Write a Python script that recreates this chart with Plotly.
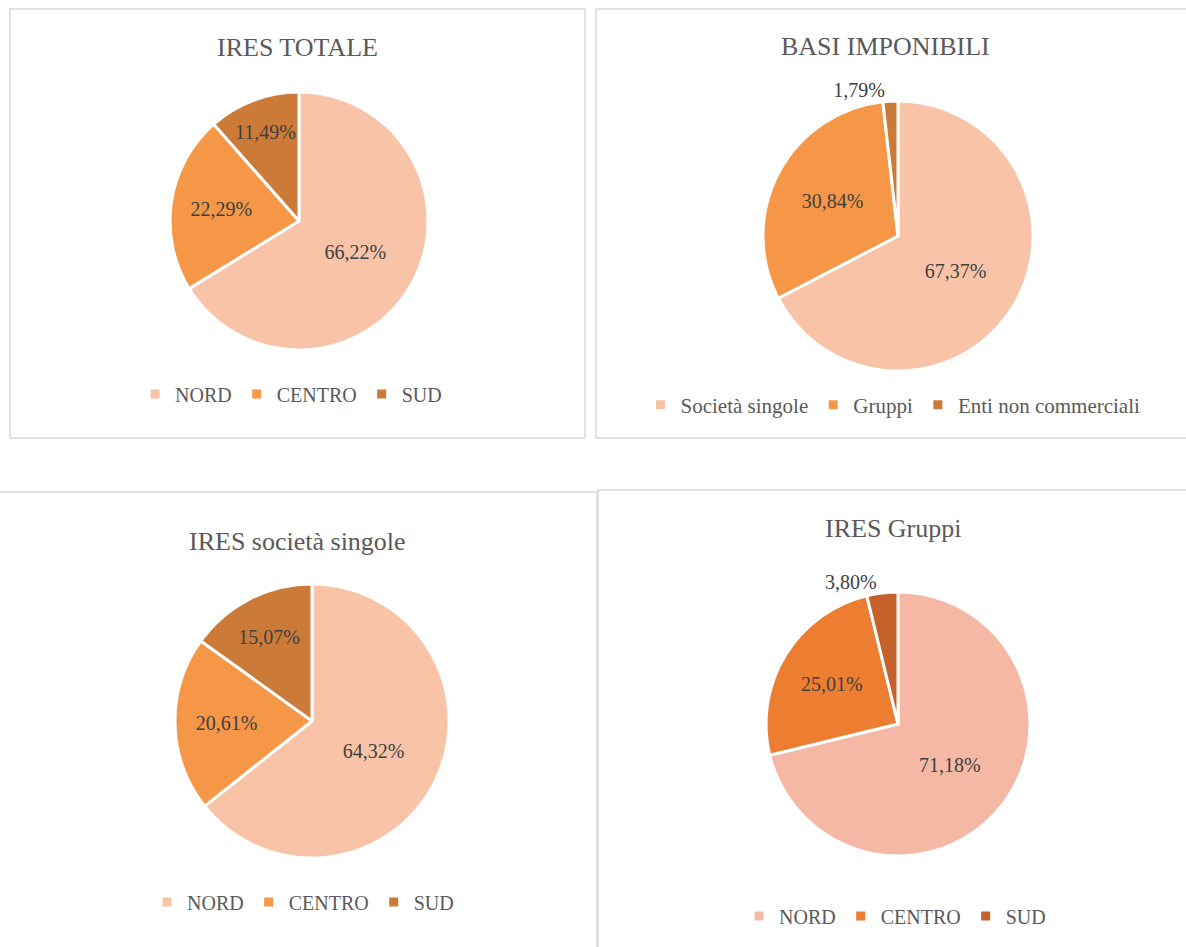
import plotly.graph_objects as go

W, H = 1186, 947

# ---- data ----
titles = ["IRES TOTALE", "BASI IMPONIBILI", "IRES società singole", "IRES Gruppi"]
labels_regions = ["NORD", "CENTRO", "SUD"]
labels_basi = ["Società singole", "Gruppi", "Enti non commerciali"]
ires_totale = [66.22, 22.29, 11.49]
basi_imponibili = [67.37, 30.84, 1.79]
ires_singole = [64.32, 20.61, 15.07]
ires_gruppi = [71.18, 25.01, 3.80]

# ---- styles ----
col_a = ["#F9C3A8", "#F59747", "#CC7A38"]
col_b = ["#F4B8A4", "#ED7D31", "#C5612A"]
font_family = "Liberation Serif"

# pixel geometry: (cx, cy, r)
pies = [(299, 221, 129), (898, 236, 135), (312, 721, 137), (898, 724, 132)]
legends = [(291, 394), (893, 405), (303, 902), (895, 916)]
legend_sizes = [20, 21, 20, 20]
title_pos = [(297, 47), (885, 46), (297, 541), (893, 528)]
boxes = [(10, 9, 585, 438), (596, 9, 1192, 438), (-6, 492, 597, 955), (598, 490, 1192, 955)]

def px(x):
    return x / W

def py(y):
    return 1 - y / H

# pies sharing label names need distinct keys so each gets its own legend;
# a zero-width space suffix keeps the visible text identical
def uniq(labels, k):
    return [lab + "\u200b" * k for lab in labels]

data_sets = [
    (uniq(labels_regions, 0), ires_totale, col_a, ["inside", "inside", "inside"]),
    (labels_basi, basi_imponibili, col_a, ["inside", "inside", "outside"]),
    (uniq(labels_regions, 1), ires_singole, col_a, ["inside", "inside", "inside"]),
    (uniq(labels_regions, 2), ires_gruppi, col_b, ["inside", "inside", "outside"]),
]

fig = go.Figure()
legend_names = ["legend", "legend2", "legend3", "legend4"]
tfont = dict(family=font_family, size=20, color="#404040")
for i, ((labs, vals, cols, tpos), (cx, cy, r)) in enumerate(zip(data_sets, pies)):
    fig.add_trace(go.Pie(
        labels=labs,
        values=vals,
        sort=False,
        direction="clockwise",
        rotation=0,
        marker=dict(colors=cols, line=dict(color="white", width=3)),
        texttemplate="%{value:.2f}%",
        textposition=tpos,
        insidetextorientation="horizontal",
        textfont=tfont,
        insidetextfont=tfont,
        outsidetextfont=tfont,
        hoverinfo="label+value",
        domain=dict(x=[px(cx - r), px(cx + r)], y=[py(cy + r), py(cy - r)]),
        legend=legend_names[i],
        showlegend=True,
        name=titles[i],
    ))

layout_legends = {}
for i, (lx, ly) in enumerate(legends):
    layout_legends[legend_names[i]] = dict(
        orientation="h",
        x=px(lx), xanchor="center",
        y=py(ly), yanchor="middle",
        font=dict(family=font_family, size=legend_sizes[i], color="#595959"),
        bgcolor="rgba(0,0,0,0)",
        itemclick=False, itemdoubleclick=False,
    )

shapes = []
for (x0, y0, x1, y1) in boxes:
    shapes.append(dict(type="rect", xref="paper", yref="paper",
                       x0=px(x0), x1=px(x1), y0=py(y1), y1=py(y0),
                       line=dict(color="#D9D9D9", width=1.5),
                       fillcolor="rgba(0,0,0,0)", layer="below"))

annotations = []
for t, (tx, ty) in zip(titles, title_pos):
    annotations.append(dict(text=t, x=px(tx), y=py(ty), xref="paper", yref="paper",
                            xanchor="center", yanchor="middle", showarrow=False,
                            font=dict(family=font_family, size=26, color="#595959")))

fig.update_layout(
    width=W, height=H,
    margin=dict(l=0, r=0, t=0, b=0),
    paper_bgcolor="white",
    plot_bgcolor="white",
    separators=",.",
    shapes=shapes,
    annotations=annotations,
    **layout_legends,
)

fig.write_html("out.html", config={"displayModeBar": False},
               post_script="document.body.style.margin='0';document.body.style.overflow='hidden';")
